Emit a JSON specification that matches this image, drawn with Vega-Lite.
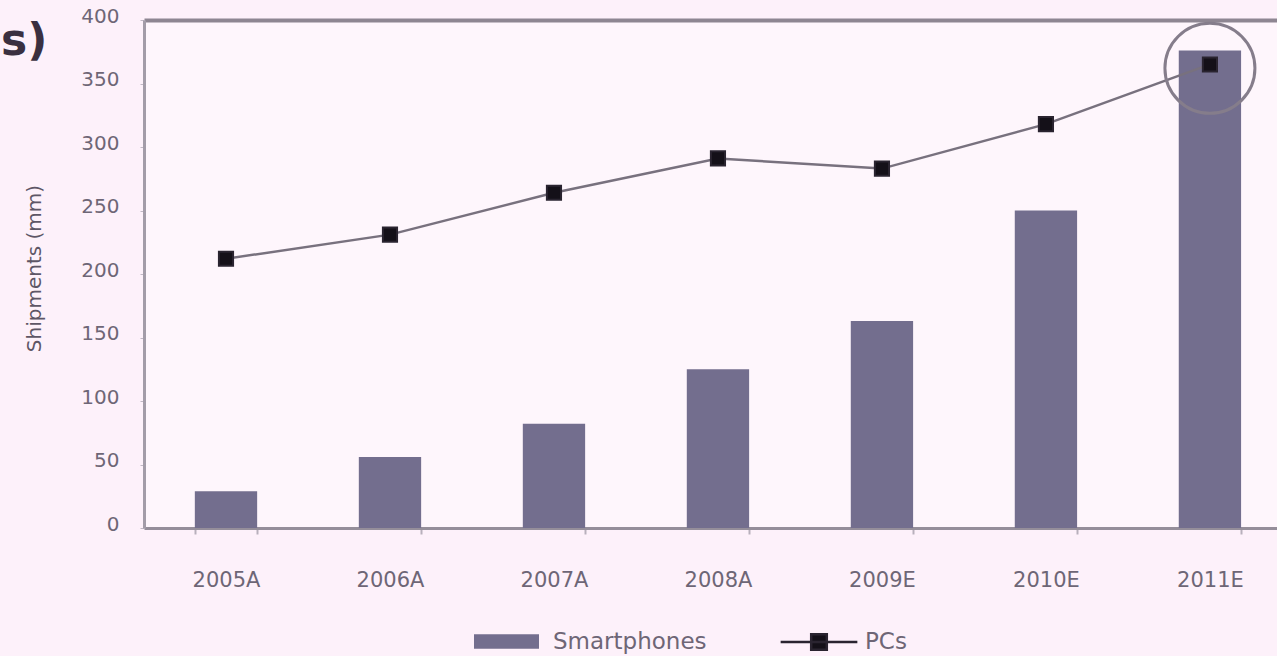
{
  "$schema": "https://vega.github.io/schema/vega-lite/v6.json",
  "autosize": {"type": "none"},
  "padding": {"left": 144, "top": 20, "right": 0, "bottom": 128},
  "width": 1133,
  "height": 508,
  "background": "#fdf1fa",
  "config": {
    "view": {"fill": "#fef6fc", "stroke": null},
    "font": "DejaVu Sans"
  },
  "title": {
    "text": "s)",
    "anchor": "start",
    "frame": "group",
    "orient": "top",
    "offset": 0,
    "dx": -143,
    "dy": 58,
    "fontSize": 44,
    "fontWeight": "bold",
    "color": "#3a3040",
    "font": "DejaVu Sans"
  },
  "data": {
    "values": [
      {"year": "2005A", "smartphones": 29, "pcs": 212},
      {"year": "2006A", "smartphones": 56, "pcs": 231},
      {"year": "2007A", "smartphones": 82, "pcs": 264},
      {"year": "2008A", "smartphones": 125, "pcs": 291},
      {"year": "2009E", "smartphones": 163, "pcs": 283},
      {"year": "2010E", "smartphones": 250, "pcs": 318},
      {"year": "2011E", "smartphones": 376, "pcs": 365, "circle": 362}
    ]
  },
  "encoding": {
    "x": {
      "field": "year",
      "type": "ordinal",
      "sort": null,
      "axis": null,
      "scale": {"paddingInner": 0.62, "paddingOuter": 0.2645, "align": 0.586}
    }
  },
  "layer": [
    {
      "mark": {"type": "bar", "opacity": 1},
      "encoding": {
        "x": {
          "field": "year",
          "type": "ordinal",
          "sort": null,
          "axis": {
            "orient": "bottom",
            "title": null,
            "labelAngle": 0,
            "labelFontSize": 21,
            "labelColor": "#6e6676",
            "labelPadding": 35,
            "tickBand": "extent",
            "tickSize": 6,
            "tickColor": "#b8b0bc",
            "tickWidth": 2,
            "domainColor": "#958e9a",
            "domainWidth": 3
          }
        },
        "y": {
          "field": "smartphones",
          "type": "quantitative",
          "scale": {"domain": [0, 400]},
          "axis": {
            "title": "Shipments (mm)",
            "titleFontSize": 20,
            "titleFontWeight": "normal",
            "titleColor": "#5e5666",
            "titleX": -100,
            "titleY": 248,
            "values": [0, 50, 100, 150, 200, 250, 300, 350, 400],
            "grid": false,
            "labelFontSize": 20,
            "labelColor": "#6e6676",
            "labelPadding": 21,
            "labelOffset": -4,
            "tickSize": 4,
            "tickColor": "#c0b8c4",
            "domainColor": "#a39ca8",
            "domainWidth": 3
          }
        },
        "color": {
          "datum": "Smartphones",
          "scale": {"domain": ["Smartphones"], "range": ["#736e8e"]},
          "legend": {
            "title": null,
            "orient": "none",
            "direction": "horizontal",
            "legendX": 329,
            "legendY": 588,
            "symbolType": "M-1,-0.22H1V0.22H-1Z",
            "symbolSize": 4225,
            "symbolOpacity": 1,
            "labelFontSize": 23,
            "labelColor": "#6e6676",
            "labelOffset": 13,
            "labelLimit": 300
          }
        }
      }
    },
    {
      "mark": {"type": "line", "color": "#78717e", "strokeWidth": 2.5},
      "encoding": {
        "x": {
          "field": "year",
          "type": "ordinal",
          "sort": null,
          "axis": {
            "orient": "top",
            "title": null,
            "labels": false,
            "ticks": false,
            "domainColor": "#8e8692",
            "domainWidth": 4
          }
        },
        "y": {"field": "pcs", "type": "quantitative"}
      }
    },
    {
      "mark": {"type": "point", "shape": "square", "filled": true, "size": 200, "opacity": 1, "color": "#141018"},
      "encoding": {
        "y": {"field": "pcs", "type": "quantitative"},
        "stroke": {
          "datum": "PCs",
          "scale": {"domain": ["PCs"], "range": ["#2a2430"]},
          "legend": {
            "title": null,
            "orient": "none",
            "direction": "horizontal",
            "legendX": 641,
            "legendY": 588,
            "symbolType": "M-1.18,0H1.18M-0.24,-0.24H0.24V0.24H-0.24Z",
            "symbolSize": 4225,
            "symbolFillColor": "#141018",
            "symbolStrokeColor": "#3a3440",
            "symbolStrokeWidth": 2.5,
            "symbolOpacity": 1,
            "labelFontSize": 23,
            "labelColor": "#6e6676",
            "labelOffset": 12,
            "labelLimit": 300
          }
        }
      }
    },
    {
      "transform": [{"filter": "datum.circle != null"}],
      "mark": {"type": "point", "shape": "circle", "filled": false, "size": 8100, "stroke": "#857d8b", "strokeWidth": 3, "opacity": 1},
      "encoding": {
        "y": {"field": "circle", "type": "quantitative"}
      }
    }
  ]
}
